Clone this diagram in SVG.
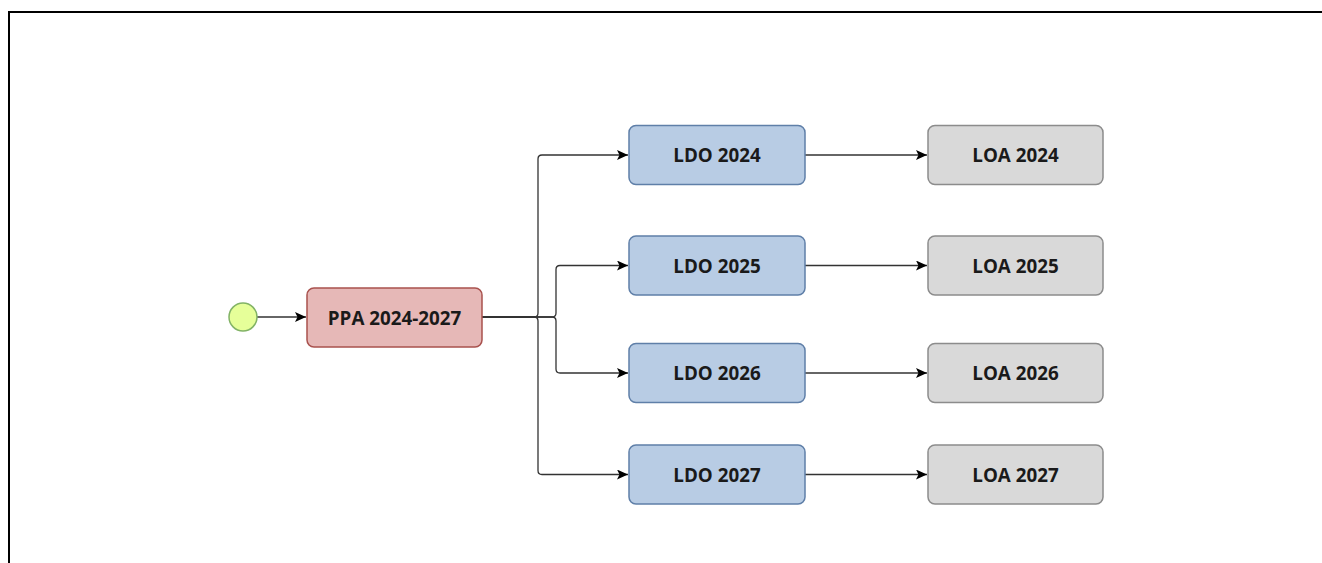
<svg xmlns="http://www.w3.org/2000/svg" width="1322" height="563" viewBox="0 0 1322 563">
  <style>
    .frame { fill: none; stroke: #000; stroke-width: 2; }
    .box { stroke-width: 1.5; }
    .ppa { fill: #e6b8b7; stroke: #a9524e; }
    .ldo { fill: #b8cce4; stroke: #5f7fa8; }
    .loa { fill: #d9d9d9; stroke: #8c8c8c; }
    .start { fill: #e6ff99; stroke: #82b366; stroke-width: 1.5; }
    .label { font-family: "Open Sans", "Liberation Sans", sans-serif; font-weight: bold; font-size: 18.8px; fill: #1a1a1a; text-anchor: middle; dominant-baseline: central; }
    .edge { fill: none; stroke: #333; stroke-width: 1.3; }
  </style>
  <defs>
    <marker id="arrow" viewBox="0 0 11 10" refX="11" refY="5" markerWidth="11" markerHeight="10" markerUnits="userSpaceOnUse" orient="auto">
      <path d="M0,0 L11,5 L0,10 L2.5,5 Z" fill="#000"/>
    </marker>
  </defs>
  <rect width="1322" height="563" fill="#fff"/>
  <!-- outer frame: top and left edges -->
  <path class="frame" d="M1322,12 H9 V563"/>

  <g id="connectors">
    <path class="edge" d="M257,317 H306" marker-end="url(#arrow)"/>
    <path class="edge" d="M482,317 H534 Q538,317 538,313 V159 Q538,155 542,155 H628" marker-end="url(#arrow)"/>
    <path class="edge" d="M482,317 H552 Q556,317 556,313 V269.5 Q556,265.5 560,265.5 H628" marker-end="url(#arrow)"/>
    <path class="edge" d="M482,317 H552 Q556,317 556,321 V369 Q556,373 560,373 H628" marker-end="url(#arrow)"/>
    <path class="edge" d="M482,317 H534 Q538,317 538,321 V470.5 Q538,474.5 542,474.5 H628" marker-end="url(#arrow)"/>
    <path class="edge" d="M805,155 H927" marker-end="url(#arrow)"/>
    <path class="edge" d="M805,265.5 H927" marker-end="url(#arrow)"/>
    <path class="edge" d="M805,373 H927" marker-end="url(#arrow)"/>
    <path class="edge" d="M805,474.5 H927" marker-end="url(#arrow)"/>
  </g>

  <g id="start">
    <circle class="start" cx="243" cy="317" r="14"/>
  </g>
  <g id="ppa">
    <rect class="box ppa" x="307" y="288" width="175" height="59" rx="7"/>
    <text class="label" x="394.5" y="317.5">PPA 2024-2027</text>
  </g>

  <g id="ldo2024">
    <rect class="box ldo" x="629" y="125.5" width="176" height="59" rx="7"/>
    <text class="label" x="717" y="155">LDO 2024</text>
  </g>
  <g id="ldo2025">
    <rect class="box ldo" x="629" y="236" width="176" height="59" rx="7"/>
    <text class="label" x="717" y="265.5">LDO 2025</text>
  </g>
  <g id="ldo2026">
    <rect class="box ldo" x="629" y="343.5" width="176" height="59" rx="7"/>
    <text class="label" x="717" y="373">LDO 2026</text>
  </g>
  <g id="ldo2027">
    <rect class="box ldo" x="629" y="445" width="176" height="59" rx="7"/>
    <text class="label" x="717" y="474.5">LDO 2027</text>
  </g>

  <g id="loa2024">
    <rect class="box loa" x="928" y="125.5" width="175" height="59" rx="7"/>
    <text class="label" x="1015.5" y="155">LOA 2024</text>
  </g>
  <g id="loa2025">
    <rect class="box loa" x="928" y="236" width="175" height="59" rx="7"/>
    <text class="label" x="1015.5" y="265.5">LOA 2025</text>
  </g>
  <g id="loa2026">
    <rect class="box loa" x="928" y="343.5" width="175" height="59" rx="7"/>
    <text class="label" x="1015.5" y="373">LOA 2026</text>
  </g>
  <g id="loa2027">
    <rect class="box loa" x="928" y="445" width="175" height="59" rx="7"/>
    <text class="label" x="1015.5" y="474.5">LOA 2027</text>
  </g>
</svg>
